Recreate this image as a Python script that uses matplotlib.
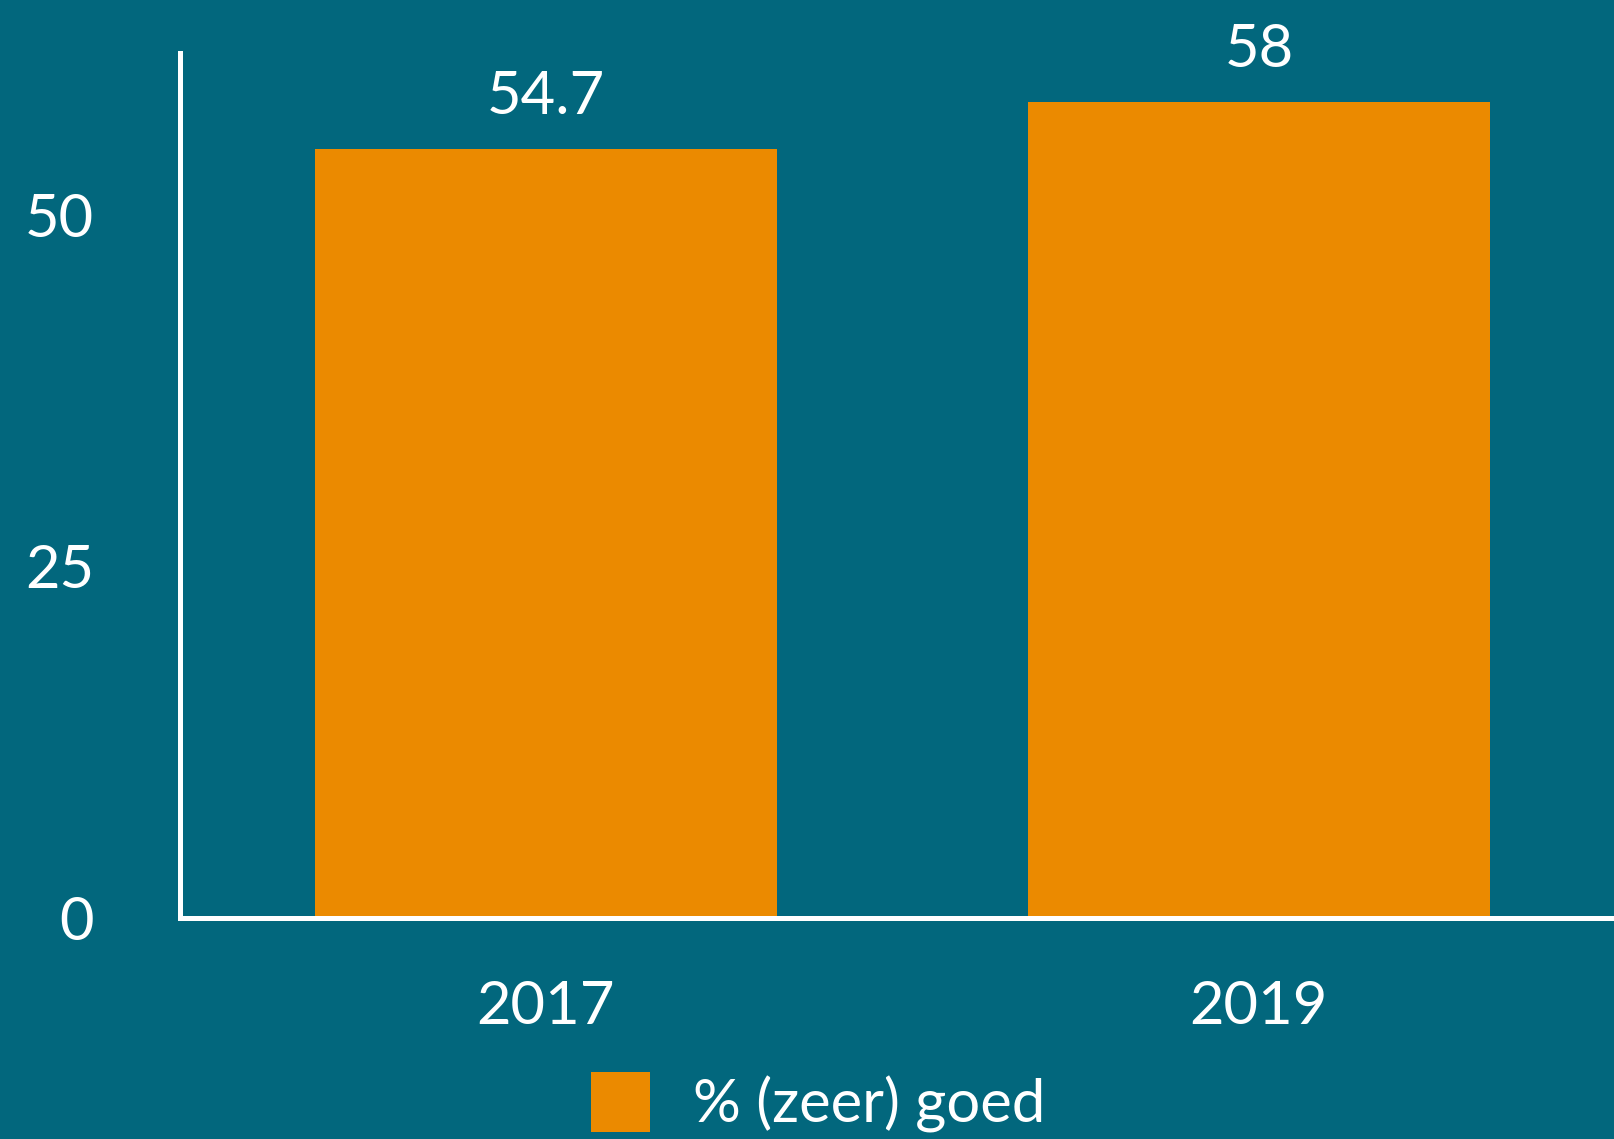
import matplotlib.pyplot as plt

years = ["2017", "2019"]
pct_good = [54.7, 58]
value_labels = ["54.7", "58"]
y_ticks = [0, 25, 50]
legend_label = "% (zeer) goed"

bg = "#02677D"
orange = "#EB8A00"

plt.rcParams["font.family"] = ["Lato", "DejaVu Sans"]

fig = plt.figure(figsize=(16.14, 11.39), dpi=100, facecolor=bg)
ax = fig.add_axes([180 / 1614, 1 - 918 / 1139, 1 - 180 / 1614, (918 - 53) / 1139])
ax.set_facecolor(bg)

x = list(range(len(years)))
bars = ax.bar(x, pct_good, width=0.648, color=orange, label=legend_label, zorder=2)

# value labels above bars
for xi, v, lab in zip(x, pct_good, value_labels):
    ax.annotate(lab, (xi, v), xytext=(0, 18), textcoords="offset points",
                ha="center", va="bottom", color="white", fontsize=43)

ax.set_xlim(-0.513, 1.498)
ax.set_ylim(0, 61.5)
ax.set_xticks(x)
ax.set_xticklabels(years)
ax.set_yticks(y_ticks)

ax.tick_params(axis="both", length=0, colors="white", labelsize=43)
ax.tick_params(axis="y", pad=62)
ax.tick_params(axis="x", pad=45)

for side in ["top", "right"]:
    ax.spines[side].set_visible(False)
for side in ["left", "bottom"]:
    ax.spines[side].set_color("white")
    ax.spines[side].set_linewidth(3.6)
    ax.spines[side].set_zorder(3)

leg = fig.legend(handles=[bars], labels=[legend_label], loc="center",
                 bbox_to_anchor=(0.507, 0.032), frameon=False, fontsize=43,
                 handlelength=1.0, handleheight=1.15, handletextpad=0.72)
for t in leg.get_texts():
    t.set_color("white")

fig.savefig("out.png", dpi=100, facecolor=bg)
